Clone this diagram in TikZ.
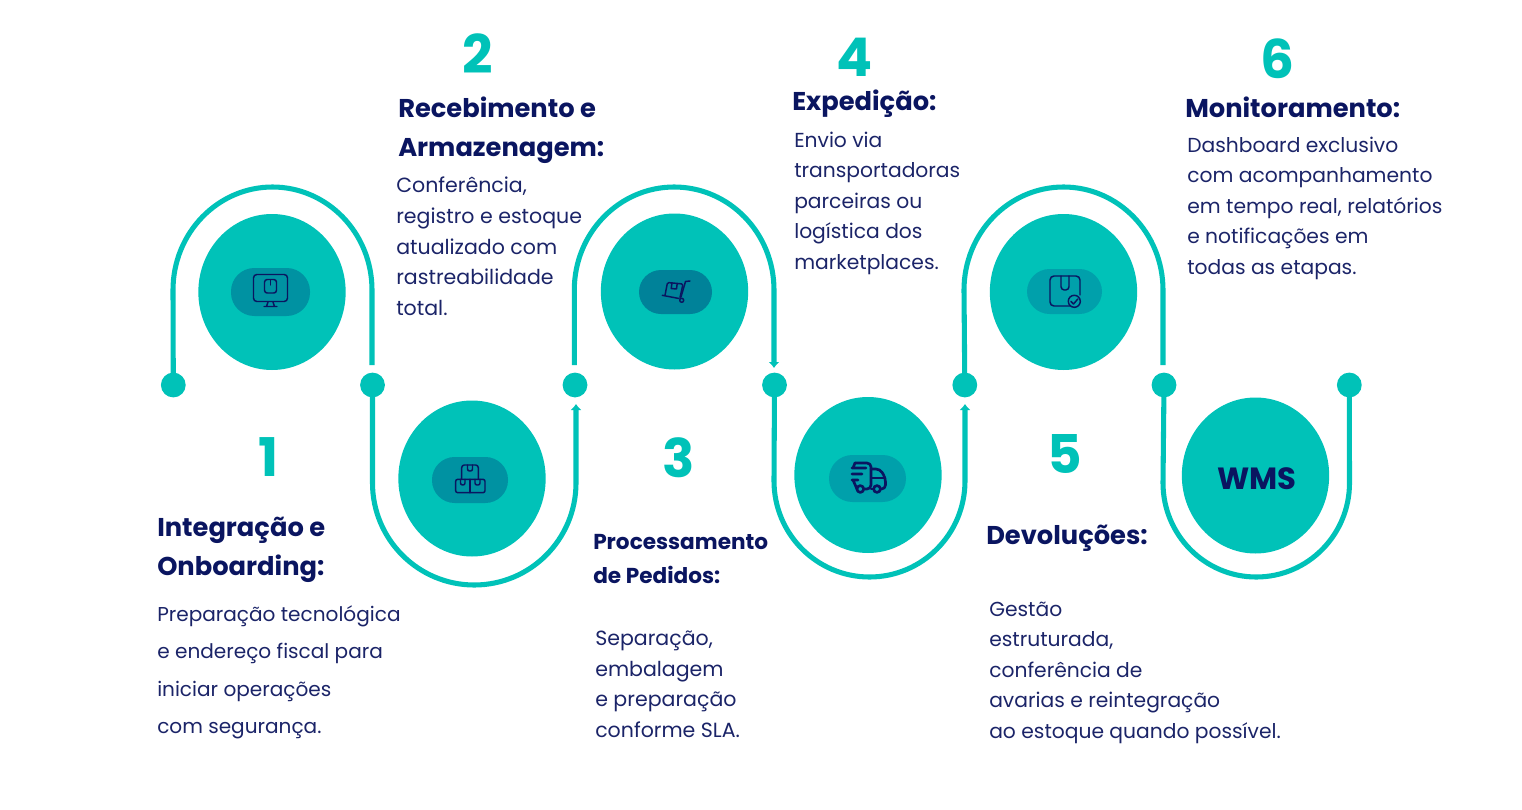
\documentclass[tikz,border=0pt]{standalone}
\usepackage{fontspec}
\setmainfont{Poppins}
\usetikzlibrary{arrows.meta}
\usetikzlibrary{shapes.geometric}
\definecolor{tealmain}{HTML}{00C2B8}
\definecolor{navymain}{HTML}{0A1560}
\definecolor{navybody}{HTML}{1B2468}
\definecolor{pillmid}{HTML}{0092A2}
\definecolor{pilldark}{HTML}{008299}
\definecolor{pilllight}{HTML}{00A0AB}

\tikzset{
  dotnode/.style={circle, fill=tealmain, inner sep=0pt, minimum size=18.6pt},
  blob/.style={ellipse, fill=tealmain, inner sep=0pt, minimum width=110.5pt, minimum height=117pt},
  trail/.style={draw=tealmain, line width=3.8pt},
  trailtip/.style={trail, -{Latex[length=4.5pt, width=8.5pt]}},
  numlabel/.style={text=tealmain, font=\fontsize{40}{40}\bfseries\selectfont, inner sep=0pt},
  headlabel/.style={text=navymain, anchor=north west, align=left, inner sep=0pt, font=\fontsize{#1}{29.3}\bfseries\selectfont},
  bodylabel/.style 2 args={text=navybody, anchor=north west, align=left, inner sep=0pt, font=\fontsize{#1}{#2}\selectfont},
  icon/.style={draw=navymain, line width=1.1pt, line join=round, line cap=round},
}

\begin{document}
\begin{tikzpicture}[x=0.75pt, y=-0.75pt]

  \useasboundingbox (0,0) rectangle (1522,810);

  % dots on the middle line
  \node[dotnode] (d1) at (173.3,385) {};
  \node[dotnode] (d2) at (372.5,385) {};
  \node[dotnode] (d3) at (575,385) {};
  \node[dotnode] (d4) at (774.5,385) {};
  \node[dotnode] (d5) at (964.8,385) {};
  \node[dotnode] (d6) at (1164,385) {};
  \node[dotnode] (d7) at (1349.3,385) {};

  % free ends of the track
  \coordinate (e1) at (372,365);
  \coordinate (e2) at (576,404);
  \coordinate (e3) at (574.3,365);
  \coordinate (e4) at (774,368);
  \coordinate (e5) at (965,404);
  \coordinate (e6) at (1163,365);

  % track
  \draw[trail] (d1.center) -- (173,290) arc[start angle=180, end angle=360, x radius=99.5, y radius=103] -- (e1);
  \draw[trailtip] (d2.center) -- (372.5,483) arc[start angle=180, end angle=0, x radius=101.75, y radius=102] -- (e2);
  \draw[trailtip] (e3) -- (574.3,290) arc[start angle=180, end angle=360, x radius=99.85, y radius=103] -- (e4);
  \draw[trailtip] (d4.center) -- (774,481) arc[start angle=180, end angle=0, x radius=95.5, y radius=96] -- (e5);
  \draw[trail] (d5.center) -- (964,290) arc[start angle=180, end angle=360, x radius=99.5, y radius=103] -- (e6);
  \draw[trail] (d6.center) -- (1163,483) arc[start angle=180, end angle=0, x radius=93.25, y radius=94] -- (d7.center);

  % big circles
  \node[blob] (c1) at (272,292) {};
  \node[blob] (c2) at (472,478.5) {};
  \node[blob] (c3) at (674.5,291.5) {};
  \node[blob] (c4) at (868,475) {};
  \node[blob] (c5) at (1063.5,292) {};
  \node[blob] (c6) at (1255.5,475.5) {};

  % pills behind the icons
  \fill[pillmid, rounded corners=17.5pt] (231,268) rectangle (310,316);
  \fill[pillmid, rounded corners=17pt] (432,457) rectangle (508,503);
  \fill[pilldark, rounded corners=16.5pt] (639,270) rectangle (712,314);
  \fill[pilllight, rounded corners=17.5pt] (829,455) rectangle (906,502);
  \fill[pilllight, rounded corners=17pt] (1027,269) rectangle (1102,314);

  % monitor
  \draw[icon, rounded corners=2.5pt] (253.5,274.5) rectangle (287.5,301.5);
  \draw[icon, rounded corners=2pt] (264.5,279.5) rectangle (276.5,293);
  \draw[icon] (270.5,280) -- (270.5,285);
  \draw[icon] (268,302) -- (266.5,306.5) (273,302) -- (274.5,306.5) (264,306.5) -- (277,306.5);

  % stacked boxes
  \draw[icon, rounded corners=2pt] (461.7,479) -- (461.7,465) -- (478.3,465) -- (478.3,479);
  \draw[icon, rounded corners=1.5pt] (455.7,479.3) rectangle (485,492.7);
  \draw[icon] (470,479.3) -- (470,492.7);
  \draw[icon, rounded corners=1.5pt] (467.5,465) -- (467.5,471) -- (472.5,471) -- (472.5,465);
  \draw[icon, rounded corners=1.5pt] (460.5,479.3) -- (460.5,485) -- (465,485) -- (465,479.3);
  \draw[icon, rounded corners=1.5pt] (475,479.3) -- (475,485) -- (480,485) -- (480,479.3);

  % hand truck
  \draw[icon, rounded corners=1pt] (665,295.3) -- (667.5,282.5) -- (683,284) -- (680,297.5);
  \draw[icon] (672,283) -- (671.2,288.5) -- (676.5,289) -- (677.2,283.5);
  \draw[icon] (690,281) -- (685.5,281.5) -- (681,297) (662.3,295.3) -- (679,298.5);
  \draw[icon] (681.7,300.3) circle[radius=2];

  % truck
  \draw[icon, line width=2pt, rounded corners=3pt] (855,463) -- (871,463) -- (871,489) -- (864,489);
  \draw[icon, line width=2pt, rounded corners=3pt] (871,469) -- (880,469) -- (885.5,478) -- (885.5,489) -- (881,489);
  \draw[icon, line width=1.5pt] (871,478) -- (885,478) (873,489) -- (871,489);
  \draw[icon, line width=2pt] (852,468) -- (866,468) (852,474) -- (862,474) (852,480) -- (858,480) (855,463) -- (853,468) (853,480) -- (857,489);
  \draw[icon, line width=2pt] (860.3,489) circle[radius=3.4];
  \draw[icon, line width=2pt] (877,489) circle[radius=3.4];

  % package with check
  \draw[icon, rounded corners=3pt] (1074,306) -- (1050,306) -- (1050,276) -- (1080,276) -- (1080,295);
  \draw[icon, rounded corners=2.5pt] (1061,276) -- (1061,290) -- (1069,290) -- (1069,276);
  \draw[icon, fill=pilllight] (1074.3,301.3) circle[radius=6];
  \draw[icon] (1071,301.5) -- (1073.5,304) -- (1077.8,299);

  \node[text=navymain, font=\fontsize{23}{23}\bfseries\selectfont, inner sep=0pt] (wms) at (1257,478.5) {WMS};

  % numbers
  \node[numlabel] (n1) at (268.5,457) {1};
  \node[numlabel] (n2) at (478,54) {2};
  \node[numlabel] (n3) at (679,458) {3};
  \node[numlabel] (n4) at (855,57) {4};
  \node[numlabel] (n5) at (1065,454) {5};
  \node[numlabel] (n6) at (1277.5,59) {6};

  % headings
  \node[headlabel=19.3] (h1) at (157,516.5) {Integração e\\Onboarding:};
  \node[headlabel=19.3] (h2) at (398,97) {Recebimento e\\Armazenagem:};
  \node[headlabel=16.2] (h3) at (593,534.5) {Processamento\\[-4pt]de Pedidos:};
  \node[headlabel=19.3] (h4) at (792,90) {Expedição:};
  \node[headlabel=19.3] (h5) at (986,524.5) {Devoluções:};
  \node[headlabel=19.3] (h6) at (1185,97) {Monitoramento:};

  % descriptions
  \node[bodylabel={15.05}{28.1}] (b1) at (157,605) {Preparação tecnológica\\e endereço fiscal para\\iniciar operações\\com segurança.};
  \node[bodylabel={15.4}{22.9}] (b2) at (396,177) {Conferência,\\registro e estoque\\atualizado com\\rastreabilidade\\total.};
  \node[bodylabel={15.4}{22.9}] (b3) at (595,631) {Separação,\\embalagem\\e preparação\\conforme SLA.};
  \node[bodylabel={15.2}{22.9}] (b4) at (794,131.5) {Envio via\\transportadoras\\parceiras ou\\logística dos\\marketplaces.};
  \node[bodylabel={15.2}{22.9}] (b5) at (989,601.5) {Gestão\\estruturada,\\conferência de\\avarias e reintegração\\ao estoque quando possível.};
  \node[bodylabel={15.2}{22.9}] (b6) at (1187,136.5) {Dashboard exclusivo\\com acompanhamento\\em tempo real, relatórios\\e notificações em\\todas as etapas.};

\end{tikzpicture}
\end{document}
